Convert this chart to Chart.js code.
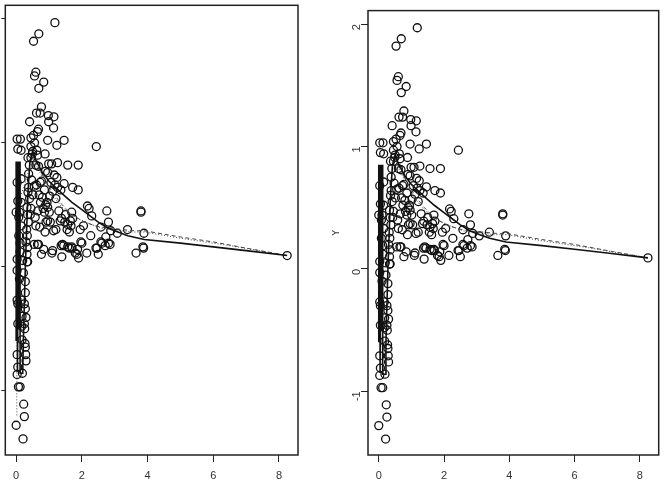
<!DOCTYPE html>
<html>
<head>
<meta charset="utf-8">
<script src="https://cdn.jsdelivr.net/npm/chart.js@4/dist/chart.umd.min.js"></script>
<style>
  body { margin: 0; background: #fff; width: 664px; height: 491px; overflow: hidden; position: relative; }
  canvas { position: absolute; top: 0; }
  #left { left: 0; }
  #right { left: 332px; }
</style>
</head>
<body>
<canvas id="left" width="332" height="491"></canvas>
<canvas id="right" width="332" height="491"></canvas>
<script>
// observed points (same in both panels)
const obsX = [1.18,0.69,0.53,0.60,0.56,0.84,0.69,0.77,0.62,0.73,0.98,1.15,0.41,0.99,1.14,0.68,0.65,0.53,0.03,0.13,
  0.45,0.96,1.46,0.56,0.05,0.15,1.24,2.44,0.63,0.49,0.65,0.88,0.45,0.60,0.68,0.99,1.08,1.26,1.57,1.89,
  0.89,0.96,1.16,1.24,0.77,0.73,0.15,0.03,1.06,1.18,1.46,0.38,0.55,1.26,1.36,1.72,1.89,0.86,0.51,1.11,
  1.21,0.80,0.05,0.15,0.94,0.96,0.45,2.17,2.22,0.86,1.01,1.69,2.76,3.80,3.80,0.00,0.10,0.35,0.43,2.30,
  0.96,1.04,0.91,1.38,1.34,1.65,1.72,1.57,1.67,1.48,1.21,1.14,0.60,2.81,2.58,0.88,2.27,2.88,3.08,3.39,
  3.89,2.73,2.58,2.81,2.71,1.97,1.41,1.45,1.37,1.57,1.70,0.65,0.55,0.84,1.11,1.87,2.43,3.86,0.68,0.77,
  1.09,1.39,1.62,1.69,1.80,1.85,1.90,2.00,2.15,2.46,2.50,2.61,2.86,3.65,3.88,8.25,
  0.35,0.33,0.35,0.28,0.28,0.28,0.30,0.26,0.25,0.27,0.28,0.29,0.30,0.19,
  0.03,0.05,0.03,0.07,0.12,0.23,0.25,0.00,0.21,0.03,0.03,0.03,0.05,0.05,0.17,0.18,0.18,0.17,0.10,0.12,
  0.08,0.15,0.08,0.12,0.22,0.25,0.20,
  0.36,0.40,0.38,0.41,0.33,0.37,0.32,0.34,0.30,0.33,0.36,0.47,0.45,0.50,
  0.62,0.70,0.74,0.58,0.66,0.90,1.02,0.82,0.72,1.30,1.50,1.55,1.62,1.95,2.05];
const obsY = [1.97,1.88,1.82,1.57,1.54,1.49,1.44,1.29,1.24,1.24,1.22,1.21,1.17,1.17,1.12,1.11,1.09,1.06,1.03,1.03,
  1.04,1.02,1.02,1.00,0.95,0.94,0.98,0.97,0.94,0.91,0.90,0.91,0.88,0.82,0.81,0.83,0.83,0.84,0.82,0.82,
  0.77,0.76,0.74,0.72,0.69,0.68,0.71,0.68,0.68,0.66,0.67,0.64,0.65,0.64,0.62,0.64,0.62,0.62,0.58,0.61,
  0.55,0.56,0.53,0.52,0.52,0.48,0.47,0.49,0.47,0.44,0.44,0.44,0.45,0.45,0.44,0.44,0.44,0.42,0.42,0.41,
  0.37,0.36,0.36,0.39,0.37,0.37,0.39,0.34,0.33,0.36,0.30,0.29,0.33,0.36,0.32,0.28,0.25,0.29,0.27,0.30,
  0.27,0.24,0.20,0.19,0.17,0.20,0.18,0.17,0.17,0.16,0.15,0.18,0.18,0.14,0.13,0.14,0.15,0.16,0.18,0.10,
  0.11,0.08,0.15,0.16,0.11,0.10,0.07,0.19,0.11,0.15,0.10,0.19,0.18,0.11,0.15,0.09,
  0.155,0.04,0.04,-0.12,-0.21,-0.34,-0.41,-0.50,-0.46,-0.62,-0.65,-0.71,-0.76,-0.86,
  -0.71,-0.81,-0.87,-0.97,-0.97,-1.11,-1.21,-1.28,-1.39,0.06,-0.03,-0.27,-0.30,-0.46,-0.27,-0.40,-0.59,-0.48,-0.10,0.12,
  0.25,0.33,0.40,0.19,-0.05,-0.30,0.05,
  0.88,0.82,0.75,0.55,0.48,0.36,0.30,0.25,0.20,0.10,0.60,0.70,0.97,0.93,
  0.66,0.58,0.52,0.40,0.45,0.50,0.57,0.47,0.32,0.45,0.42,0.30,0.28,0.30,0.33];

// fitted curves
const solidX = [0.00,0.00,0.04,0.04,0.08,0.08,0.12,0.12,0.20,0.22,0.25,0.28,0.32,0.36,0.42,0.50,0.60,0.80,1.00,1.20,
  1.40,1.70,2.00,2.20,2.50,2.80,3.10,3.40,3.90,5.00,6.00,7.00,8.25];
const solidY = [0.85,-0.60,0.85,-0.85,0.85,-0.50,0.85,-0.86,-0.86,-0.60,-0.30,0.00,0.30,0.60,0.85,0.93,0.86,0.76,0.69,0.64,
  0.59,0.52,0.46,0.42,0.36,0.31,0.28,0.25,0.22,0.19,0.16,0.13,0.09];
const dashX = [0.50,0.80,1.10,1.40,1.70,2.00,2.40,2.80,3.20,3.60,3.90,5.00,6.00,7.00,8.25];
const dashY = [0.90,0.74,0.60,0.50,0.42,0.37,0.33,0.31,0.30,0.29,0.29,0.24,0.20,0.15,0.09];
const dotLeftX = [0.02,0.02,0.05,0.30,0.50,0.80,1.10,1.40,1.80,2.20,2.60,3.00,3.50,3.90,5.00,6.50,8.25];
const dotLeftY = [-1.20,-0.80,0.50,0.70,0.88,0.72,0.58,0.48,0.40,0.35,0.31,0.30,0.28,0.28,0.23,0.17,0.09];
const dotRightX = [0.50,0.80,1.10,1.40,1.80,2.20,2.60,3.00,3.50,3.90,5.00,6.50,8.25];
const dotRightY = [0.88,0.72,0.58,0.48,0.40,0.35,0.31,0.30,0.28,0.28,0.23,0.17,0.09];

const xTicks = [0, 2, 4, 6, 8];
const yTicks = [-1, 0, 1, 2];

const zip = (xs, ys) => xs.map((x, i) => ({ x: x, y: ys[i] }));

const boxPlugin = {
  id: 'box',
  afterDraw(chart) {
    const a = chart.chartArea, c = chart.ctx;
    c.save();
    c.strokeStyle = '#222';
    c.lineWidth = 1.5;
    c.strokeRect(a.left, a.top, a.right - a.left, a.bottom - a.top);
    c.restore();
  }
};

function lineSet(xs, ys, dash, width, color) {
  return {
    type: 'scatter', data: zip(xs, ys), showLine: true, pointRadius: 0,
    borderColor: color, borderWidth: width, borderDash: dash, fill: false
  };
}

function panel(id, dotX, dotY, showLabels) {
  new Chart(document.getElementById(id), {
    type: 'scatter',
    data: {
      datasets: [
        lineSet(solidX, solidY, [], 1.6, '#111'),
        lineSet(dashX, dashY, [4, 3], 1, '#444'),
        lineSet(dotX, dotY, [1, 2], 1, '#444'),
        {
          data: zip(obsX, obsY), pointRadius: 4, pointBorderWidth: 1.3,
          pointBackgroundColor: 'rgba(0,0,0,0)', pointBorderColor: '#111', showLine: false
        }
      ]
    },
    options: {
      responsive: false, animation: false,
      layout: { padding: { top: 3, right: showLabels ? 3 : 34, left: 0, bottom: 0 } },
      plugins: { legend: { display: false }, tooltip: { enabled: false } },
      scales: {
        x: {
          min: -0.33, max: 8.58,
          afterBuildTicks: s => { s.ticks = xTicks.map(v => ({ value: v })); },
          afterFit: s => { s.height = 36; },
          grid: { drawOnChartArea: false, drawTicks: true, tickLength: 7, color: '#222' },
          border: { display: false },
          ticks: { color: '#333', font: { family: 'Liberation Sans', size: 11 }, padding: 7, maxRotation: 0 }
        },
        y: {
          min: -1.52, max: 2.11,
          afterBuildTicks: s => { s.ticks = yTicks.map(v => ({ value: v })); },
          afterFit: s => { s.width = showLabels ? 36 : 4; },
          grid: { drawOnChartArea: false, drawTicks: true, tickLength: showLabels ? 7 : 4, color: '#222' },
          border: { display: false },
          title: { display: showLabels, text: 'Y', color: '#333', font: { family: 'Liberation Sans', size: 11 }, padding: { top: -3, bottom: 0 } },
          ticks: { display: showLabels, color: '#333', font: { family: 'Liberation Sans', size: 11 },
                   minRotation: 90, maxRotation: 90, padding: 4 }
        }
      }
    },
    plugins: [boxPlugin]
  });
}

panel('left', dotLeftX, dotLeftY, false);
panel('right', dotRightX, dotRightY, true);
</script>
</body>
</html>
